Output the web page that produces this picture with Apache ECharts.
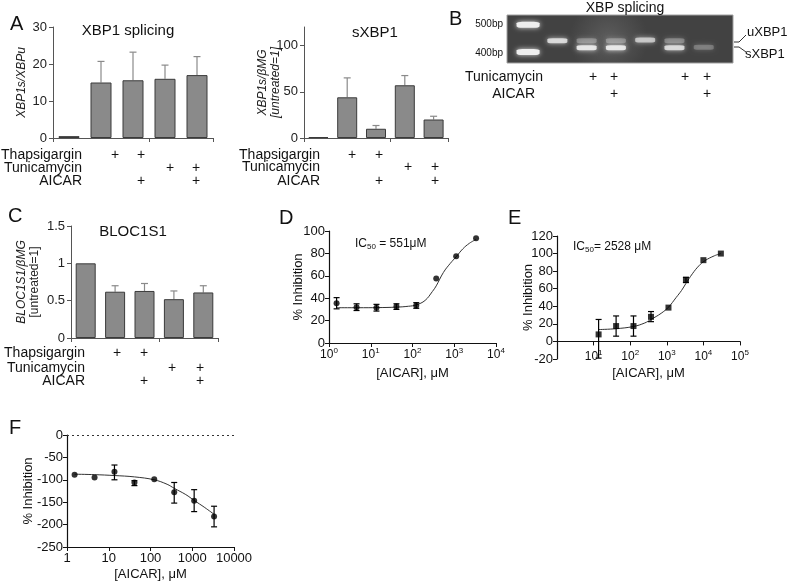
<!DOCTYPE html>
<html>
<head>
<meta charset="utf-8">
<script src="https://cdn.jsdelivr.net/npm/echarts@6/dist/echarts.min.js"></script>
<style>
    html, body { margin: 0; padding: 0; background: #fff; }
    #chart { width: 787px; height: 587px; }
</style>
</head>
<body>
<div id="chart"></div>
<script>
// ---- data ----
const conditions = ['untreated', 'Tg', 'Tg+AICAR', 'Tm', 'Tm+AICAR'];
const thapsigargin = [0, 1, 1, 0, 0];
const tunicamycin = [0, 0, 0, 1, 1];
const aicar = [0, 0, 1, 0, 1];

// A left: XBP1s/XBPu
const xbpRatio = [0.5, 15, 15.6, 16, 17];
const xbpRatioErr = [0, 5.7, 7.6, 3.7, 5];
// A right: sXBP1 / bMG
const sxbp = [1, 44, 10, 57, 20];
const sxbpErr = [0, 21, 3.5, 10.5, 3.5];
// C: BLOC1S1 / bMG
const bloc = [1, 0.62, 0.63, 0.52, 0.61];
const blocErr = [0, 0.08, 0.1, 0.11, 0.09];

// B: gel, lane 0 = ladder
const gelLanes = [0, 1, 2, 3, 4, 5, 6];
const gelBandLane = [0, 0, 1, 2, 2, 3, 3, 4, 5, 5, 6];
const gelBandBp = [500, 400, 442, 442, 416, 442, 416, 444, 442, 416, 418];
const gelBandGlow = [1, 1, 0.8, 0.3, 0.9, 0.3, 0.9, 0.65, 0.3, 0.8, 0.25];
const gelTunicamycin = [0, 0, 1, 1, 0, 1, 1];
const gelAicar = [0, 0, 0, 1, 0, 0, 1];

// D
const doseD = [1.52, 4.57, 13.7, 41.2, 123, 370, 1111, 3333];
const inhD = [35.5, 32, 31.5, 32.5, 33.5, 57.5, 77.5, 93.5];
const lowD = [30.5, 29, 28.5, 30, 31, 57.5, 77.5, 93.5];
const highD = [40.5, 35, 34.5, 35, 36, 57.5, 77.5, 93.5];
const fitDx = [1.52, 5, 15, 40, 80, 123, 200, 300, 370, 550, 800, 1111, 1600, 2300, 3333];
const fitDy = [31.5, 31.5, 31.6, 32, 32.8, 34, 38, 46, 51, 63, 71, 77, 84, 89, 92.5];

// E
const doseE = [13.7, 41.2, 123, 370, 1111, 3333, 10000, 30000];
const inhE = [8, 17.5, 17.5, 28, 38.5, 70, 92.5, 100];
const lowE = [-19, 6, 6, 22.5, 38.5, 67, 92.5, 100];
const highE = [25, 29, 29, 34, 38.5, 73, 92.5, 100];
const fitEx = [13.7, 41.2, 123, 250, 370, 700, 1111, 1800, 2528, 3333, 5000, 7500, 11111, 20000, 30000];
const fitEy = [13.5, 14.5, 17, 21, 25, 32, 39, 50, 58, 66, 77, 86, 92, 97.5, 100];

// F
const doseF = [1.52, 4.57, 13.7, 41.2, 123, 370, 1111, 3333];
const inhF = [-89, -95, -82, -106, -99, -128, -147, -182];
const lowF = [-89, -95, -100, -113, -99, -152, -171, -205];
const highF = [-89, -95, -67, -102, -99, -106, -122, -159];
const fitFx = [1.52, 4.57, 13.7, 41.2, 123, 250, 370, 700, 1111, 2000, 3333];
const fitFy = [-87.5, -88.5, -90.5, -93.5, -100, -110, -119, -133, -146, -162, -177];

const FONT = '"Liberation Sans", Arial, sans-serif';

const myChart = echarts.init(document.getElementById('chart'), null, { renderer: 'canvas' });

const grid = [];
const xAxis = [];
const yAxis = [];
const series = [];
const graphic = [];

function zip(a, b) {
    return a.map((v, i) => [v, b[i]]);
}

// error bars through the axes
function errBars(capW, color, onlyTop) {
    return function (params, api) {
        const x = api.value(0);
        const lo = api.value(1);
        const hi = api.value(2);
        if (lo === hi) return null;
        const p1 = api.coord([x, lo]);
        const p2 = api.coord([x, hi]);
        const style = { stroke: color, lineWidth: 1.2, fill: null };
        const children = [
            { type: 'line', shape: { x1: p1[0], y1: p1[1], x2: p2[0], y2: p2[1] }, style },
            { type: 'line', shape: { x1: p2[0] - capW, y1: p2[1], x2: p2[0] + capW, y2: p2[1] }, style },
        ];
        if (!onlyTop) {
            children.push({ type: 'line', shape: { x1: p1[0] - capW, y1: p1[1], x2: p1[0] + capW, y2: p1[1] }, style });
        }
        return { type: 'group', children };
    };
}

function text(x, y, str, opt) {
    graphic.push({
        type: 'text',
        x: x,
        y: y,
        rotation: (opt && opt.rotation) || 0,
        style: Object.assign({
            text: str,
            font: '14px ' + FONT,
            fill: '#111',
            textAlign: 'left',
            textVerticalAlign: 'middle',
        }, opt && opt.style),
    });
}

// bar panels (A left, A right, C)
function barPanel(cfg) {
    const g = grid.length;
    grid.push(cfg.grid);
    xAxis.push({
        type: 'category',
        gridIndex: g,
        data: conditions,
        axisLabel: { show: false },
        axisLine: { lineStyle: { color: '#555', width: 1 } },
        axisTick: { show: true, length: 4, lineStyle: { color: '#555' } },
    });
    yAxis.push({
        type: 'value',
        gridIndex: g,
        min: 0,
        max: cfg.max,
        interval: cfg.interval,
        splitLine: { show: false },
        axisLine: { show: true, lineStyle: { color: '#555', width: 1 } },
        axisTick: { show: true, length: 4, lineStyle: { color: '#555' }, customValues: cfg.ticks },
        axisLabel: {
            fontSize: 13, color: '#222', fontFamily: FONT, margin: 6,
            customValues: cfg.ticks,
            formatter: v => String(v),
        },
        name: cfg.name,
        nameLocation: 'middle',
        nameRotate: 90,
        nameGap: cfg.nameGap,
        nameMoveOverlap: false,
        nameTextStyle: { fontFamily: FONT, fontSize: 12, color: '#222', lineHeight: 13, rich: cfg.rich || {} },
    });
    series.push({
        type: 'bar',
        xAxisIndex: g,
        yAxisIndex: g,
        data: cfg.values,
        barWidth: cfg.barWidth,
        itemStyle: { color: '#8a8a8a', borderColor: '#3a3a3a', borderWidth: 1 },
        z: 2,
    });
    series.push({
        type: 'custom',
        xAxisIndex: g,
        yAxisIndex: g,
        renderItem: errBars(3.5, '#8a8a8a', true),
        data: cfg.values.map((v, i) => [i, v, v + cfg.errs[i]]),
        z: 1,
    });
    text(cfg.title[0], cfg.title[1], cfg.title[2], { style: { font: '15px ' + FONT, textAlign: 'center' } });
    const rows = [['Thapsigargin', thapsigargin], ['Tunicamycin', tunicamycin], ['AICAR', aicar]];
    rows.forEach((r, k) => {
        text(cfg.rowRight, cfg.rowY[k], r[0], { style: { textAlign: 'right' } });
        r[1].forEach((f, i) => {
            if (f) text(cfg.plusX[i], cfg.rowY[k], '+', { style: { textAlign: 'center' } });
        });
    });
}

barPanel({
    grid: { left: 53, top: 27, width: 160, height: 111 },
    values: xbpRatio, errs: xbpRatioErr,
    max: 30, interval: 10, ticks: [0, 10, 20, 30],
    barWidth: 21,
    name: '{i|XBP1s/XBPu}', nameGap: 25,
    rich: { i: { fontStyle: 'italic', fontSize: 12, fontFamily: FONT } },
    title: [128, 31, 'XBP1 splicing'],
    rowRight: 82, rowY: [155, 168, 181],
    plusX: [0, 115, 141, 170, 196],
});

barPanel({
    grid: { left: 304, top: 27, width: 144, height: 111 },
    values: sxbp, errs: sxbpErr,
    max: 120, interval: 50, ticks: [0, 50, 100],
    barWidth: 20,
    name: '{i|XBP1s/βMG}\n{i|[untreated=1]}', nameGap: 22,
    rich: { i: { fontStyle: 'italic', fontSize: 12, fontFamily: FONT, lineHeight: 13 } },
    title: [375, 33, 'sXBP1'],
    rowRight: 320, rowY: [155, 167, 181],
    plusX: [0, 352, 379, 408, 435],
});

barPanel({
    grid: { left: 71, top: 226, width: 147, height: 112 },
    values: bloc, errs: blocErr,
    max: 1.5, interval: 0.5, ticks: [0, 0.5, 1, 1.5],
    barWidth: 20,
    name: '{i|BLOC1S1/βMG}\n{n|[untreated=1]}', nameGap: 30,
    rich: {
        i: { fontStyle: 'italic', fontSize: 12, fontFamily: FONT, lineHeight: 13 },
        n: { fontSize: 12, fontFamily: FONT, lineHeight: 13 },
    },
    title: [133, 232, 'BLOC1S1'],
    rowRight: 85, rowY: [353, 368, 381],
    plusX: [0, 117, 144, 172, 200],
});

// ---- B: gel ----
(function () {
    const g = grid.length;
    grid.push({
        left: 507, top: 15, width: 226, height: 48, show: true,
        backgroundColor: new echarts.graphic.RadialGradient(0.45, 0.5, 0.8, [
            { offset: 0, color: '#5c5c5c' },
            { offset: 1, color: '#424242' },
        ]),
        borderColor: '#a0a0a0', borderWidth: 1,
    });
    xAxis.push({ type: 'value', gridIndex: g, min: -0.72, max: 7, show: false });
    yAxis.push({ type: 'value', gridIndex: g, min: 360, max: 536, show: false });
    series.push({
        type: 'scatter',
        xAxisIndex: g,
        yAxisIndex: g,
        symbol: 'roundRect',
        data: gelBandBp.map((bp, i) => ({
            value: [gelBandLane[i], bp],
            symbolSize: gelBandLane[i] === 0 ? [23, 6] : [20, 5],
            itemStyle: { opacity: gelBandGlow[i] },
        })),
        itemStyle: { color: '#eeeeee', shadowBlur: 5, shadowColor: 'rgba(255,255,255,0.8)' },
        silent: true,
    });
    text(625, 8, 'XBP splicing', { style: { textAlign: 'center' } });
    text(503, 24, '500bp', { style: { font: '10px ' + FONT, textAlign: 'right' } });
    text(503, 53, '400bp', { style: { font: '10px ' + FONT, textAlign: 'right' } });
    text(747, 32, 'uXBP1', { style: { font: '13px ' + FONT } });
    text(745, 54, 'sXBP1', { style: { font: '13px ' + FONT } });
    graphic.push({ type: 'polyline', shape: { points: [[734, 42], [739, 42], [746, 35]] }, style: { stroke: '#333', lineWidth: 1, fill: null } });
    graphic.push({ type: 'polyline', shape: { points: [[734, 47], [739, 47], [746, 52]] }, style: { stroke: '#333', lineWidth: 1, fill: null } });
    text(543, 77, 'Tunicamycin', { style: { textAlign: 'right' } });
    text(535, 94, 'AICAR', { style: { textAlign: 'right' } });
    const plusX = [0, 0, 593, 614, 0, 685, 707];
    gelLanes.forEach(i => {
        if (gelTunicamycin[i]) text(plusX[i], 77, '+', { style: { textAlign: 'center' } });
        if (gelAicar[i]) text(plusX[i], 94, '+', { style: { textAlign: 'center' } });
    });
})();

// ---- dose-response panels ----
function dosePanel(cfg) {
    const g = grid.length;
    grid.push(cfg.grid);
    xAxis.push({
        type: 'log',
        logBase: 10,
        gridIndex: g,
        min: cfg.xmin,
        max: cfg.xmax,
        splitLine: { show: false },
        axisLine: { onZero: cfg.onZero, lineStyle: { color: '#111', width: 1.2 } },
        axisTick: { show: true, length: 4, lineStyle: { color: '#111' } },
        axisLabel: Object.assign({
            fontSize: 12, color: '#111', fontFamily: FONT, margin: 4,
            showMinLabel: cfg.showMinLabel,
        }, cfg.xLabel),
        name: '[AICAR], μM',
        nameLocation: 'middle',
        nameGap: cfg.xNameGap,
        nameTextStyle: { fontFamily: FONT, fontSize: 13, color: '#111' },
    });
    yAxis.push({
        type: 'value',
        gridIndex: g,
        min: cfg.ymin,
        max: cfg.ymax,
        interval: cfg.yint,
        splitLine: { show: false },
        axisLine: { show: true, onZero: false, lineStyle: { color: '#111', width: 1.2 } },
        axisTick: { show: true, length: 4, lineStyle: { color: '#111' } },
        axisLabel: { fontSize: 13, color: '#111', fontFamily: FONT, margin: 4 },
        name: '% Inhibition',
        nameLocation: 'middle',
        nameRotate: 90,
        nameGap: cfg.yNameGap,
        nameMoveOverlap: false,
        nameTextStyle: { fontFamily: FONT, fontSize: 13, color: '#111' },
    });
    const fit = {
        type: 'line',
        xAxisIndex: g,
        yAxisIndex: g,
        data: zip(cfg.fitX, cfg.fitY),
        smooth: 0.4,
        showSymbol: false,
        lineStyle: { color: '#333', width: 1 },
        z: 1,
    };
    if (cfg.zeroLine) {
        fit.markLine = {
            silent: true,
            symbol: 'none',
            label: { show: false },
            lineStyle: { type: [2, 3], color: '#333', width: 1 },
            data: [{ yAxis: 0 }],
        };
    }
    series.push(fit);
    series.push({
        type: 'custom',
        xAxisIndex: g,
        yAxisIndex: g,
        renderItem: errBars(3, '#000', false),
        data: cfg.dose.map((d, i) => [d, cfg.low[i], cfg.high[i]]),
        clip: false,
        z: 2,
    });
    series.push({
        type: 'scatter',
        xAxisIndex: g,
        yAxisIndex: g,
        symbol: cfg.symbol,
        symbolSize: cfg.symbolSize,
        data: zip(cfg.dose, cfg.inh),
        itemStyle: { color: '#000' },
        z: 3,
    });
}

const powLabel = {
    formatter: v => '{b|10}{s|' + Math.round(Math.log10(v)) + '}',
    rich: {
        b: { fontSize: 12, fontFamily: FONT, color: '#111' },
        s: { fontSize: 8, fontFamily: FONT, color: '#111', padding: [0, 0, 7, 0] },
    },
};

dosePanel({
    grid: { left: 329, top: 231, width: 167, height: 112 },
    xmin: 1, xmax: 10000, onZero: false, showMinLabel: true,
    xLabel: powLabel, xNameGap: 24,
    ymin: 0, ymax: 100, yint: 20, yNameGap: 24,
    dose: doseD, inh: inhD, low: lowD, high: highD,
    fitX: fitDx, fitY: fitDy,
    symbol: 'circle', symbolSize: 6,
});

dosePanel({
    grid: { left: 557, top: 236, width: 183, height: 123 },
    xmin: 1, xmax: 100000, onZero: true, showMinLabel: false,
    xLabel: Object.assign({}, powLabel, { margin: -10 }), xNameGap: 8,
    ymin: -20, ymax: 120, yint: 20, yNameGap: 22,
    dose: doseE, inh: inhE, low: lowE, high: highE,
    fitX: fitEx, fitY: fitEy,
    symbol: 'rect', symbolSize: 6,
});

dosePanel({
    grid: { left: 67, top: 435, width: 167, height: 112 },
    xmin: 1, xmax: 10000, onZero: false, showMinLabel: true,
    xLabel: { fontSize: 13, margin: 5, formatter: v => String(Math.round(v)) }, xNameGap: 21,
    ymin: -250, ymax: 0, yint: 50, yNameGap: 32,
    dose: doseF, inh: inhF, low: lowF, high: highF,
    fitX: fitFx, fitY: fitFy, zeroLine: true,
    symbol: 'circle', symbolSize: 6,
});

// IC50 notes
const subRich = {
    s: { fontSize: 8, fontFamily: FONT, padding: [6, 0, 0, 0] },
};
graphic.push({ type: 'text', x: 355, y: 244, style: { text: 'IC{s|50} = 551μM', font: '12px ' + FONT, fill: '#111', textVerticalAlign: 'middle', rich: subRich } });
graphic.push({ type: 'text', x: 573, y: 247, style: { text: 'IC{s|50}= 2528 μM', font: '12px ' + FONT, fill: '#111', textVerticalAlign: 'middle', rich: subRich } });

// panel letters
[['A', 10, 24], ['B', 449, 19], ['C', 8, 216], ['D', 279, 218], ['E', 508, 218], ['F', 9, 428]].forEach(p => {
    text(p[1], p[2], p[0], { style: { font: '20px ' + FONT } });
});

const option = {
    animation: false,
    backgroundColor: '#fff',
    textStyle: { fontFamily: FONT },
    grid,
    xAxis,
    yAxis,
    series,
    graphic,
};
myChart.setOption(option);
</script>
</body>
</html>
